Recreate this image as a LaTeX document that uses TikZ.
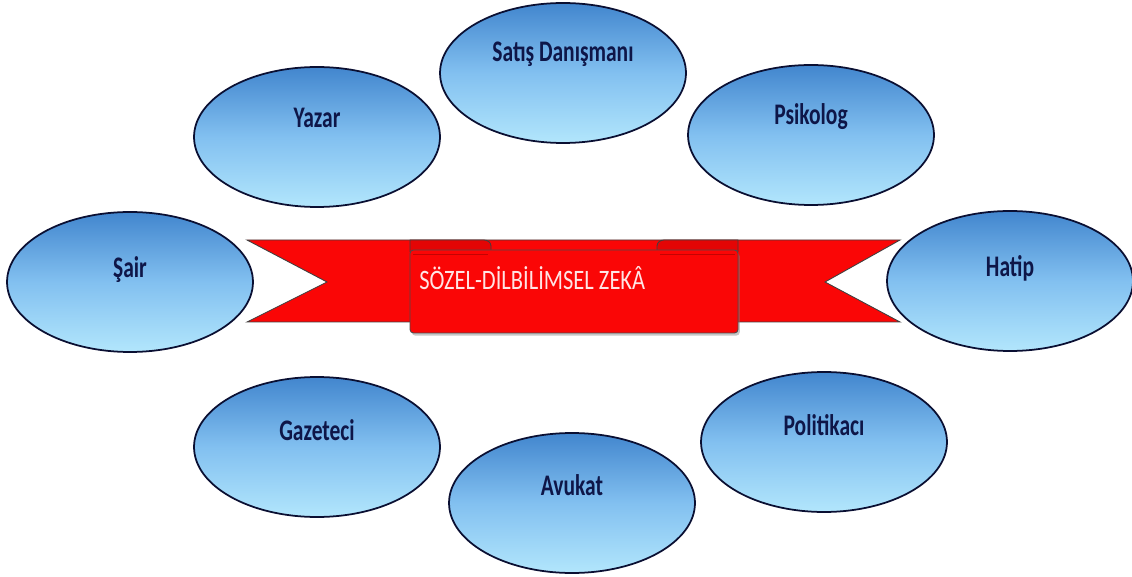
\documentclass[tikz,border=0pt]{standalone}
\usepackage{fontspec}
\setmainfont{Carlito}
\usepackage{graphicx}
\usepackage{xcolor}
\usepackage{tikz}
\usetikzlibrary{shapes,shadows}
\definecolor{navy}{RGB}{14,22,72}
\definecolor{skytop}{RGB}{66,134,206}
\definecolor{skymid}{RGB}{130,192,240}
\definecolor{skybot}{RGB}{178,230,252}
\definecolor{band}{RGB}{250,6,6}
\definecolor{foldred}{RGB}{140,0,0}
\newcommand{\narrow}[1]{\scalebox{0.72}[1]{#1}}
\tikzset{bubble/.style={ellipse,draw=navy!70!black,line width=1pt,minimum width=4.92cm,minimum height=2.8cm,top color=skytop,bottom color=skybot,middle color=skymid}}
\tikzset{lbl/.style={anchor=base,inner sep=0pt,text=navy,font=\fontsize{17}{20}\selectfont\bfseries}}

\begin{document}
\begin{tikzpicture}[x=0.02cm,y=-0.02cm]
    \useasboundingbox (0,0) rectangle (1132,577);

    % ribbon
    \draw[fill=band,draw=black!75,line width=0.5pt] (247,240) -- (900,240) -- (825,282) -- (900,322) -- (247,322) -- (327,282) -- cycle;
    \draw[fill=foldred!20!band,draw=black!75,line width=0.5pt] (410,252) -- (410,240) -- (484,240) to[out=0,in=90] (491,246) -- (491,252);
    \draw[fill=foldred!20!band,draw=black!75,line width=0.5pt] (738,252) -- (738,240) -- (664,240) to[out=180,in=90] (657,246) -- (657,252);
    \draw[fill=band,draw=black!70,line width=0.5pt,rounded corners=2pt,drop shadow={opacity=0.45,shadow xshift=1pt,shadow yshift=-1.5pt}] (410,250) rectangle (738,333);
    \draw[foldred!50!band,line width=0.5pt] (413,254) -- (488,254);
    \draw[foldred!50!band,line width=0.5pt] (660,254) -- (735,254);
    \node[anchor=base west,inner sep=0pt,text={rgb,255:red,255;green,228;blue,228},font=\fontsize{16}{19}\selectfont] (z) at (419,290) {\scalebox{0.8}[1]{SÖZEL-DİLBİLİMSEL ZEKÂ}};

    % jobs
    \node[bubble] (a) at (563,73) {};
    \node[bubble] (b) at (317,137) {};
    \node[bubble] (c) at (811,135) {};
    \node[bubble] (d) at (130,282) {};
    \node[bubble] (e) at (1010,281) {};
    \node[bubble] (f) at (317,447) {};
    \node[bubble] (g) at (824,442) {};
    \node[bubble] (h) at (572,503) {};

    \node[lbl] (ta) at (563,62) {\narrow{Satış Danışmanı}};
    \node[lbl] (tb) at (317,128) {\narrow{Yazar}};
    \node[lbl] (tc) at (811,125) {\narrow{Psikolog}};
    \node[lbl] (td) at (130,278) {\narrow{Şair}};
    \node[lbl] (te) at (1010,277) {\narrow{Hatip}};
    \node[lbl] (tf) at (317,440) {\narrow{Gazeteci}};
    \node[lbl] (tg) at (824,435) {\narrow{Politikacı}};
    \node[lbl] (th) at (572,495) {\narrow{Avukat}};
\end{tikzpicture}
\end{document}
